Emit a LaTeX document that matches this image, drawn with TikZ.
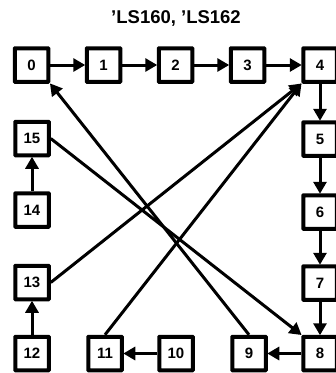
\documentclass[tikz,border=0pt]{standalone}
\usepackage{fontspec}
\setmainfont{Liberation Sans}
\usetikzlibrary{arrows.meta}
\tikzset{
  statebox/.style={draw=black,fill=white,line width=4pt,minimum size=33.5pt,inner sep=0pt,outer sep=2pt,font=\bfseries\fontsize{15}{17}\selectfont,rounded corners=0.5pt},
  conn/.style={line width=3pt,-{Triangle[length=12pt,width=13pt]},shorten >=-0.5pt},
  titletext/.style={font=\bfseries\fontsize{18.5}{20}\selectfont,inner sep=0pt}
}
\begin{document}
\begin{tikzpicture}[x=1pt,y=-1pt]
\useasboundingbox (0,0) rectangle (336,373);
\fill[white] (0,0) rectangle (336,373);
\node[titletext] (title) at (176,18) {’LS160, ’LS162};
\node[statebox] (n0) at (31.5,65) {0};
\node[statebox] (n1) at (103.5,65) {1};
\node[statebox] (n2) at (175.5,65) {2};
\node[statebox] (n3) at (247.5,65) {3};
\node[statebox] (n4) at (320,65) {4};
\node[statebox] (n5) at (320,139) {5};
\node[statebox] (n6) at (320,212) {6};
\node[statebox] (n7) at (320,283) {7};
\node[statebox] (n8) at (320,353.5) {8};
\node[statebox] (n9) at (249,353.5) {9};
\node[statebox] (n10) at (176,353.5) {10};
\node[statebox] (n11) at (105,353.5) {11};
\node[statebox] (n12) at (32,353.5) {12};
\node[statebox] (n13) at (32,282.5) {13};
\node[statebox] (n14) at (32,210) {14};
\node[statebox] (n15) at (32,138.5) {15};
\draw[conn] (n0) -- (n1);
\draw[conn] (n1) -- (n2);
\draw[conn] (n2) -- (n3);
\draw[conn] (n3) -- (n4);
\draw[conn] (n4) -- (n5);
\draw[conn] (n5) -- (n6);
\draw[conn] (n6) -- (n7);
\draw[conn] (n7) -- (n8);
\draw[conn] (n8) -- (n9);
\draw[conn] (n10) -- (n11);
\draw[conn] (n12) -- (n13);
\draw[conn] (n14) -- (n15);
\draw[conn] (n9.north) -- (n0.south east);
\draw[conn] (n15.east) -- (n8.north west);
\draw[conn] (n13.east) -- (n4.south west);
\draw[conn] (n11.north) -- (n4.south west);
\end{tikzpicture}
\end{document}
